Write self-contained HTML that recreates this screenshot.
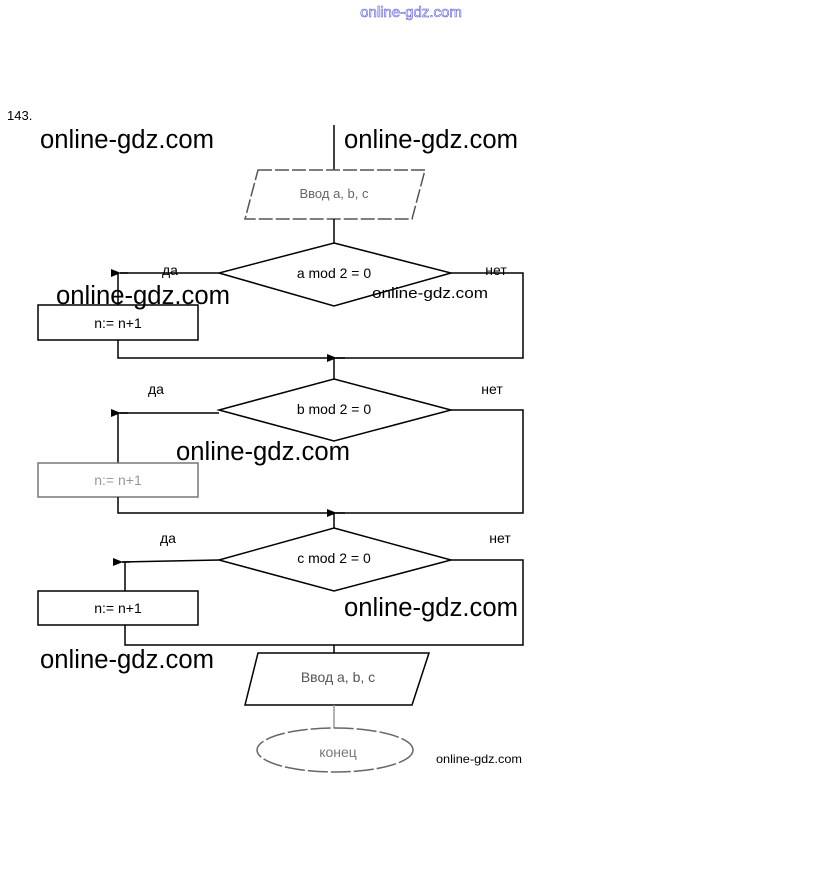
<!DOCTYPE html>
<html><head><meta charset="utf-8"><style>
body{margin:0;background:#fff;width:823px;height:878px;overflow:hidden}
svg{display:block}
text{font-family:"Liberation Sans","DejaVu Sans",sans-serif}
</style></head><body>
<svg width="823" height="878" xmlns="http://www.w3.org/2000/svg">
<defs><marker id="a" markerUnits="userSpaceOnUse" markerWidth="10" markerHeight="8" refX="1" refY="4" orient="auto"><path d="M10,0 L0,4 L10,8 z" fill="#000"/></marker></defs>
<text x="411" y="17" font-size="15" text-anchor="middle" fill="#fff" stroke="#5555dd" stroke-width="0.6">online-gdz.com</text>
<text x="7" y="120" font-size="13">143.</text>
<g stroke="#000" stroke-width="1.5" fill="none">
<line x1="334" y1="125" x2="334" y2="170"/>
<polygon points="258,170 425,170 412,219 245,219" stroke="#555" stroke-dasharray="14,3"/>
<line x1="334" y1="219" x2="334" y2="243"/>
<polygon points="334,243 451,273 334,306 219,273"/>
<polyline points="219,273 120,273"/>
<line x1="128" y1="273" x2="120" y2="273" marker-end="url(#a)"/>
<line x1="118" y1="273" x2="118" y2="305"/>
<rect x="38" y="305" width="160" height="35"/>
<polyline points="118,340 118,358 523,358 523,273 451,273"/>
<line x1="345" y1="358" x2="336" y2="358" marker-end="url(#a)"/>
<line x1="334" y1="358" x2="334" y2="379"/>
<polygon points="334,379 451,410 334,441 219,410"/>
<polyline points="219,413 118,413 118,463"/>
<line x1="128" y1="413" x2="120" y2="413" marker-end="url(#a)"/>
<rect x="38" y="463" width="160" height="34" stroke="#777"/>
<polyline points="118,497 118,513 523,513 523,410 451,410"/>
<line x1="345" y1="513" x2="336" y2="513" marker-end="url(#a)"/>
<line x1="334" y1="513" x2="334" y2="528"/>
<polygon points="334,528 451,560 334,591 219,560"/>
<polyline points="219,560 122,562"/>
<line x1="130" y1="562" x2="122" y2="562" marker-end="url(#a)"/>
<line x1="125" y1="562" x2="125" y2="591"/>
<rect x="38" y="591" width="160" height="34"/>
<polyline points="125,625 125,645 523,645 523,560 451,560"/>
<line x1="334" y1="645" x2="334" y2="653"/>
<polygon points="258,653 429,653 412,705 245,705"/>
<line x1="334" y1="705" x2="334" y2="728" stroke="#999"/>
<ellipse cx="335" cy="750" rx="78" ry="22" stroke="#666" stroke-dasharray="20,3"/>
</g>
<g font-size="14" text-anchor="middle">
<text x="334" y="198" fill="#666" font-size="13">Ввод a, b, c</text>
<text x="334" y="278">a mod 2 = 0</text>
<text x="334" y="414">b mod 2 = 0</text>
<text x="334" y="563">c mod 2 = 0</text>
<text x="118" y="328">n:= n+1</text>
<text x="118" y="485" fill="#999">n:= n+1</text>
<text x="118" y="613">n:= n+1</text>
<text x="338" y="682" fill="#555">Ввод a, b, c</text>
<text x="338" y="757" fill="#777">конец</text>
<text x="170" y="275">да</text><text x="496" y="275">нет</text>
<text x="156" y="394">да</text><text x="492" y="394">нет</text>
<text x="168" y="543">да</text><text x="500" y="543">нет</text>
</g>
<g font-size="25.5">
<text x="40" y="148" textLength="174" lengthAdjust="spacingAndGlyphs">online-gdz.com</text>
<text x="344" y="148" textLength="174" lengthAdjust="spacingAndGlyphs">online-gdz.com</text>
<text x="56" y="304" textLength="174" lengthAdjust="spacingAndGlyphs">online-gdz.com</text>
<text x="176" y="460" textLength="174" lengthAdjust="spacingAndGlyphs">online-gdz.com</text>
<text x="344" y="616" textLength="174" lengthAdjust="spacingAndGlyphs">online-gdz.com</text>
<text x="40" y="668" textLength="174" lengthAdjust="spacingAndGlyphs">online-gdz.com</text>
</g>
<text x="372" y="298" font-size="15" textLength="116" lengthAdjust="spacingAndGlyphs">online-gdz.com</text>
<text x="436" y="763" font-size="12" textLength="86" lengthAdjust="spacingAndGlyphs">online-gdz.com</text>
</svg>
</body></html>
